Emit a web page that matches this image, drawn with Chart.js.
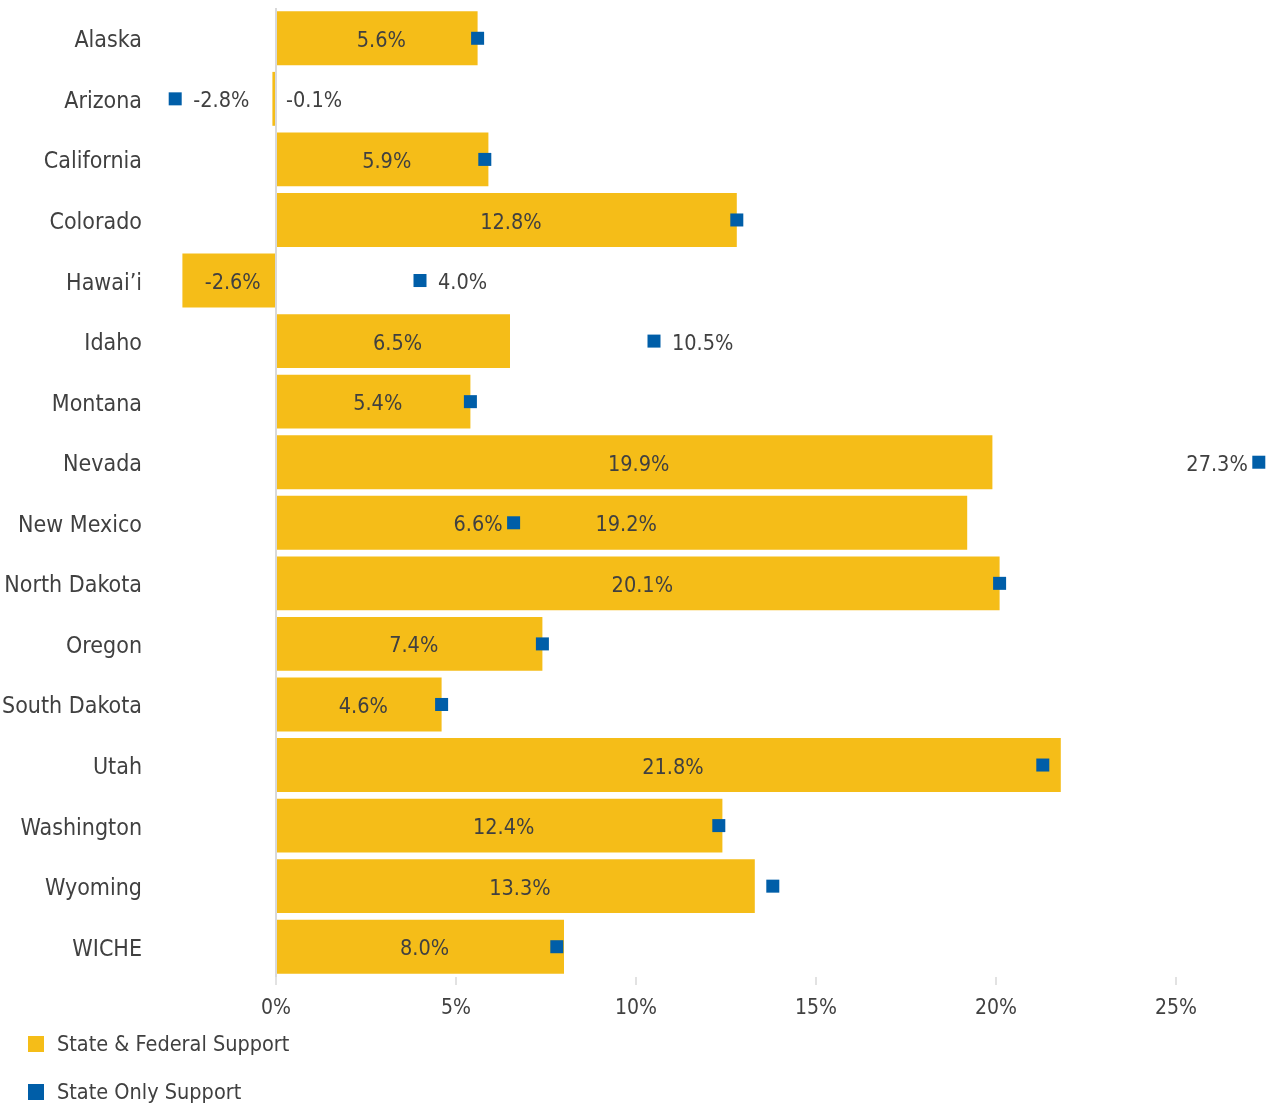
<!DOCTYPE html>
<html lang="en">
<head>
<meta charset="UTF-8">
<meta name="viewport" content="width=device-width, initial-scale=1.0">
<title>State support change</title>
<script src="https://cdn.jsdelivr.net/npm/chart.js@4.4.1/dist/chart.umd.min.js"></script>
<style>
    html, body { margin:0; padding:0; background:#fff; }
    #wrap { width:1269px; height:1108px; position:relative; }
</style>
</head>
<body>
<div id="wrap"><canvas id="supportChart"></canvas></div>

<script>
const states = ['Alaska', 'Arizona', 'California', 'Colorado', 'Hawai\u2019i', 'Idaho', 'Montana', 'Nevada',
                'New Mexico', 'North Dakota', 'Oregon', 'South Dakota', 'Utah', 'Washington', 'Wyoming', 'WICHE'];
const stateFederal = [5.6, -0.1, 5.9, 12.8, -2.6, 6.5, 5.4, 19.9, 19.2, 20.1, 7.4, 4.6, 21.8, 12.4, 13.3, 8.0];
const stateOnly    = [5.6, -2.8, 5.8, 12.8, 4.0, 10.5, 5.4, 27.3, 6.6, 20.1, 7.4, 4.6, 21.3, 12.3, 13.8, 7.8];
// state only values that get their own label, and on which side of the square
const stateOnlyLabelSide = ['', 'right', '', '', 'right', 'right', '', 'left', 'left', '', '', '', '', '', '', ''];
const xTicks = [0, 5, 10, 15, 20, 25];

const FONT = '"Liberation Sans Narrow", "DejaVu Sans Condensed", sans-serif';
const TEXT = '#404040';
const GRID = '#d9d9d9';
const YELLOW = '#f5bd18';
const BLUE = '#005ea8';

// bar labels + the odd state-only labels
const valueLabels = {
    id: 'valueLabels',
    afterDatasetsDraw(chart) {
        const ctx = chart.ctx;
        const zero = chart.scales.x.getPixelForValue(0);
        ctx.save();
        ctx.font = '21.5px ' + FONT;
        ctx.fillStyle = TEXT;
        ctx.textBaseline = 'middle';

        chart.getDatasetMeta(0).data.forEach(function(bar, i){
            const txt = stateFederal[i].toFixed(1) + '%';
            const w = ctx.measureText(txt).width;
            if (Math.abs(bar.x - bar.base) < w + 8) {
                ctx.textAlign = 'left';
                ctx.fillText(txt, zero + 10, bar.y + 3);
            } else {
                ctx.textAlign = 'center';
                ctx.fillText(txt, (bar.x + bar.base) / 2 + 4, bar.y + 3);
            }
        });

        chart.getDatasetMeta(1).data.forEach(function(pt, i){
            const side = stateOnlyLabelSide[i];
            if (!side) return;
            const txt = stateOnly[i].toFixed(1) + '%';
            if (side === 'right') {
                ctx.textAlign = 'left';
                ctx.fillText(txt, pt.x + 18, pt.y + 3);
            } else {
                ctx.textAlign = 'right';
                ctx.fillText(txt, pt.x - 11, pt.y + 3);
            }
        });
        ctx.restore();
    }
};

// stacked legend in the bottom left corner
const stackedLegend = {
    id: 'stackedLegend',
    afterDraw(chart) {
        const ctx = chart.ctx;
        ctx.save();
        ctx.font = '21.5px ' + FONT;
        ctx.textAlign = 'left';
        ctx.textBaseline = 'middle';
        chart.data.datasets.forEach(function(ds, i){
            const cy = 1044 + i * 48;
            ctx.fillStyle = ds.backgroundColor;
            ctx.fillRect(28, cy - 8, 16, 16);
            ctx.fillStyle = TEXT;
            ctx.fillText(ds.label, 57, cy + 1);
        });
        ctx.restore();
    }
};

const config = {
    data: {
        labels: states,
        datasets: [
            {
                type: 'bar',
                label: 'State & Federal Support',
                data: stateFederal,
                backgroundColor: YELLOW,
                indexAxis: 'y',
                barPercentage: 0.89,
                categoryPercentage: 1,
                order: 1
            },
            {
                type: 'line',
                label: 'State Only Support',
                data: stateOnly,
                backgroundColor: BLUE,
                borderColor: BLUE,
                indexAxis: 'y',
                showLine: false,
                pointStyle: 'rect',
                pointRadius: 9.2,
                pointBorderWidth: 0,
                clip: false,
                order: 0
            }
        ]
    },
    options: {
        indexAxis: 'y',
        responsive: true,
        maintainAspectRatio: false,
        animation: false,
        layout: { autoPadding: false, padding: { top: 8, right: 3, left: 0, bottom: 0 } },
        plugins: {
            legend: { display: false },
            tooltip: { enabled: false }
        },
        scales: {
            x: {
                type: 'linear',
                min: -3,
                max: 27.5,
                afterBuildTicks: function(s){ s.ticks = xTicks.map(v => ({ value: v })); },
                afterFit: function(s){
                    s.height = 131;
                    s.paddingLeft = 0;
                    s.paddingRight = 0;
                },
                grid: {
                    color: c => (c.tick && c.tick.value === 0) ? GRID : 'rgba(0,0,0,0)',
                    lineWidth: 2,
                    tickColor: GRID,
                    tickWidth: 1.5,
                    tickLength: 8
                },
                border: { display: false },
                ticks: {
                    callback: v => v + '%',
                    font: { size: 21, family: FONT },
                    color: TEXT,
                    padding: 11,
                    maxRotation: 0
                }
            },
            y: {
                afterFit: function(s){
                    s.width = 168;
                    s.paddingTop = 0;
                    s.paddingBottom = 0;
                },
                grid: { display: false, drawTicks: false },
                border: { display: false },
                ticks: {
                    font: { size: 23, family: FONT },
                    color: TEXT,
                    padding: 26,
                    labelOffset: 3
                }
            }
        }
    },
    plugins: [valueLabels, stackedLegend]
};

new Chart(document.getElementById('supportChart').getContext('2d'), config);
</script>
</body>
</html>
